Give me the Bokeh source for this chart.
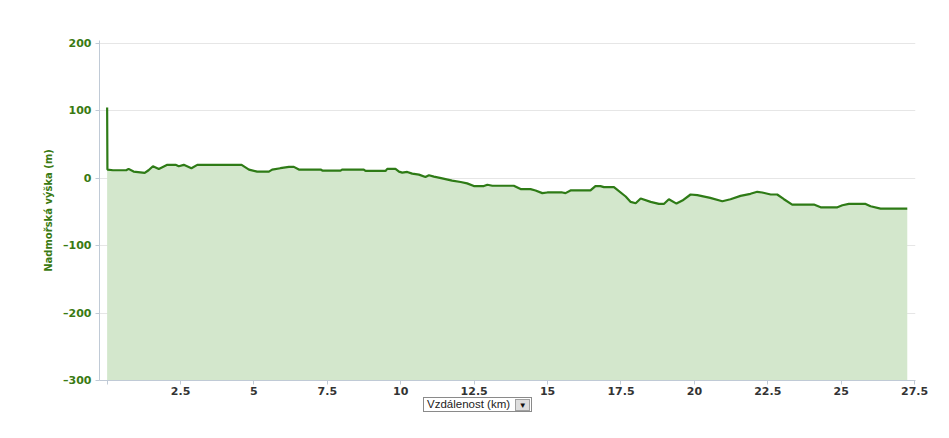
from bokeh.plotting import figure
from bokeh.models import Range1d, FixedTicker, Div
from bokeh.layouts import column
from bokeh.embed import file_html
from bokeh.resources import INLINE

distance_km = [0, 0.01, 0.2, 0.65, 0.73, 0.9, 1.28, 1.41, 1.56, 1.76, 2.05, 2.33, 2.44, 2.61,
               2.87, 3.07, 4.58, 4.83, 5.11, 5.51, 5.62, 5.9, 6.19, 6.36, 6.53, 7.27, 7.33,
               7.95, 8.0, 8.74, 8.8, 9.48, 9.54, 9.82, 9.94, 10.05, 10.22, 10.39, 10.62,
               10.84, 10.96, 11.13, 11.41, 11.75, 12.04, 12.26, 12.49, 12.83, 12.95, 13.12,
               13.85, 14.08, 14.42, 14.59, 14.82, 14.99, 15.5, 15.61, 15.78, 16.46, 16.63,
               16.8, 16.92, 17.26, 17.66, 17.83, 18.0, 18.17, 18.51, 18.79, 18.96, 19.13,
               19.39, 19.59, 19.87, 20.1, 20.54, 20.95, 21.23, 21.57, 21.91, 22.14, 22.31,
               22.6, 22.82, 23.05, 23.33, 24.07, 24.3, 24.87, 25.04, 25.26, 25.83, 26.0,
               26.34, 27.25]
elevation_m = [105, 13, 12, 12, 14, 10, 8, 12, 18, 14, 20, 20, 18, 20,
               15, 20, 20, 13, 10, 10, 13, 15, 17, 17, 13, 13, 11.5,
               11.5, 13, 13, 11, 11, 14, 14, 10, 8.5, 9.5, 7, 5.5,
               2, 4.5, 2.5, 0, -3.5, -5.5, -7.5, -11.5, -11.5, -9.5, -11,
               -11, -16, -16, -18, -22, -21, -21, -22, -18, -18, -11.5,
               -11.5, -13, -13, -27, -35, -37, -30, -35, -38, -38, -31,
               -37.5, -33, -24, -25, -29, -34, -31, -26, -23, -20, -21,
               -24, -24, -31, -39, -39, -43, -43, -40, -38, -38, -41.5,
               -45, -45]

x_ticks = [0, 2.5, 5, 7.5, 10, 12.5, 15, 17.5, 20, 22.5, 25, 27.5]
x_tick_labels = ["", "2.5", "5", "7.5", "10", "12.5", "15", "17.5", "20", "22.5", "25", "27.5"]
y_ticks = [-300, -200, -100, 0, 100, 200]
y_tick_labels = ["\u2013300", "\u2013200", "\u2013100", "0", "100", "200"]
y_floor = -300
x_axis_title = "Vzdálenost (km)"
y_axis_title = "Nadmořská výška (m)"

green_line = "#2e7b16"
green_fill = "#d3e7cc"
green_text = "#3a7a12"

p = figure(width=941, height=400, output_backend="svg", toolbar_location=None,
           x_range=Range1d(-0.26, 27.53), y_range=Range1d(-300, 204.5),
           min_border_left=99, min_border_right=26, min_border_top=40, min_border_bottom=20)
p.outline_line_color = None
p.background_fill_color = "white"

p.varea(x=distance_km, y1=y_floor, y2=elevation_m, fill_color=green_fill, fill_alpha=1.0)
p.line(distance_km, elevation_m, line_color=green_line, line_width=2.2)

p.xgrid.grid_line_color = None
p.ygrid.grid_line_color = "#e6e6e6"
p.ygrid.ticker = FixedTicker(ticks=y_ticks)

p.xaxis.ticker = FixedTicker(ticks=x_ticks)
p.xaxis.major_label_overrides = {t: l for t, l in zip(x_ticks, x_tick_labels)}
p.yaxis.ticker = FixedTicker(ticks=y_ticks)
p.yaxis.major_label_overrides = {t: l for t, l in zip(y_ticks, y_tick_labels)}

for ax in (p.xaxis, p.yaxis):
    ax.axis_line_color = "#c0cad6"
    ax.major_tick_line_color = "#c0cad6"
    ax.minor_tick_line_color = None
    ax.major_tick_out = 4
    ax.major_tick_in = 0
    ax.major_label_text_font = "DejaVu Sans"
    ax.major_label_text_font_style = "bold"
    ax.major_label_text_font_size = "11px"

p.xaxis.major_label_text_color = "#333333"
p.xaxis.major_label_standoff = 2
p.yaxis.major_label_text_color = green_text
p.yaxis.major_label_standoff = 4

p.yaxis.axis_label = y_axis_title
p.yaxis.axis_label_text_font = "DejaVu Sans"
p.yaxis.axis_label_text_font_style = "bold"
p.yaxis.axis_label_text_font_size = "10px"
p.yaxis.axis_label_text_color = green_text
p.yaxis.axis_label_standoff = 6

dropdown = Div(width=941, height=30, margin=0, text=(
    '<div style="position:relative; left:423px; top:-4px; display:inline-flex; align-items:center;'
    ' border:1px solid #8a8a8a; background:#fff; height:15px; padding:0 1px 0 3px;'
    ' font-family:\'Liberation Sans\', Arial, sans-serif; font-size:11.5px; color:#222; line-height:15px;">'
    '<span>' + x_axis_title + '</span>'
    '<span style="display:inline-block; margin-left:5px; width:15px; height:12px; background:#dedede;'
    ' border:1px solid #a0a0a0; font-size:8px; line-height:12px; text-align:center; color:#111;">&#9660;</span>'
    '</div>'))

layout = column(p, dropdown, spacing=0)
open("out.html", "w").write(file_html(layout, INLINE))
